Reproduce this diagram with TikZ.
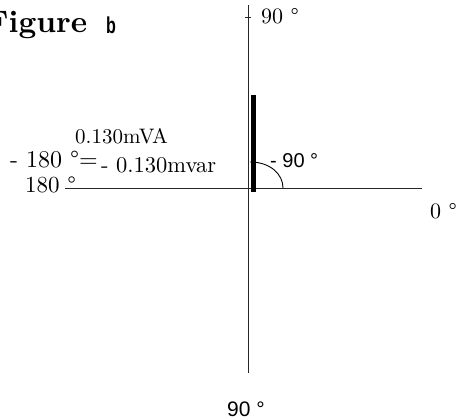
\documentclass[tikz,border=0pt]{standalone}
\usepackage{fontspec}
\setmainfont{lmroman10-regular.otf}[BoldFont=lmroman10-bold.otf]
\newfontfamily\arialfont{Liberation Sans}
\usetikzlibrary{positioning}

\tikzset{
  serif/.style={inner sep=0pt, anchor=base west, font=\fontsize{22}{24}\selectfont},
  sans/.style={inner sep=0pt, anchor=base west, font=\arialfont\fontsize{20}{22}\selectfont},
  axis/.style={line width=0.8pt, draw=black!85},
}

\begin{document}
\begin{tikzpicture}[x=1pt, y=-1pt]
  \useasboundingbox (0,0) rectangle (457,419);

  % Axes
  \coordinate (vtop) at (248,5);
  \coordinate (vbot) at (248,373);
  \coordinate (hleft) at (65,188);
  \coordinate (hright) at (422,188);
  \draw[axis] (vtop) -- (vbot);
  \draw[axis] (hleft) -- (hright);
  \draw[axis] (245,17) -- (251,17);

  % Phasor and angle
  \coordinate (ptop) at (253.5,95);
  \coordinate (pbot) at (253.5,192);
  \draw[line width=5pt] (ptop) -- (pbot);
  \coordinate (arcA) at (250,162);
  \coordinate (arcB) at (283,188);
  \draw[line width=0.9pt] (arcA) .. controls (270,162) and (283,174) .. (arcB);

  % Labels
  \node[inner sep=0pt, anchor=base west, font=\fontsize{31}{33}\selectfont\bfseries] (title) at (-14,33) {Figure};
  \node[inner sep=0pt, anchor=base west, xscale=0.7, font=\arialfont\bfseries\fontsize{23}{25}\selectfont] (titleb) at (106,34) {b};
  \node[serif] (lbltop) at (261,24) {90 °};
  \node[serif, font=\fontsize{21}{23}\selectfont] (lblva) at (75,144) {0.130mVA};
  \node[serif, font=\fontsize{24}{26}\selectfont] (lblneg) at (10,168) {- 180 °=};
  \node[serif, font=\fontsize{22.5}{24}\selectfont] (lblvar) at (101,173) {- 0.130mvar};
  \node[serif, font=\fontsize{23}{25}\selectfont] (lblleft) at (25,193) {180 °};
  \node[sans] (lblang) at (270,168) {- 90 °};
  \node[serif] (lblright) at (430,219) {0 °};
  \node[sans, font=\arialfont\fontsize{21}{23}\selectfont] (lblbot) at (227,416) {90 °};
\end{tikzpicture}
\end{document}
